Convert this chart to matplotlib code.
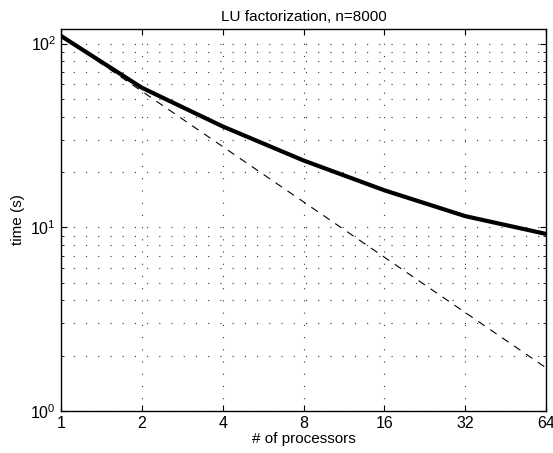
import matplotlib
matplotlib.use("Agg")
import matplotlib.pyplot as plt
from matplotlib.ticker import FixedLocator, FixedFormatter, LogLocator, NullFormatter

plt.rcParams['font.family'] = ['Liberation Sans', 'DejaVu Sans']
plt.rcParams['mathtext.fontset'] = 'custom'
plt.rcParams['mathtext.rm'] = 'Liberation Sans'

processors = [1, 2, 4, 8, 16, 32, 64]
measured = [110, 57.5, 35.4, 23.1, 15.9, 11.5, 9.2]
ideal = [110, 55, 27.5, 13.75, 6.875, 3.4375, 1.71875]
xtick_labels = ['1', '2', '4', '8', '16', '32', '64']

fig = plt.figure(figsize=(5.53, 4.53), dpi=100)
ax = fig.add_axes([61/553, 1 - 411/453, (546 - 61)/553, (411 - 29)/453])

ax.plot(processors, ideal, color='black', linestyle=(0, (7, 6)), linewidth=0.8)
ax.plot(processors, measured, color='black', linewidth=3)

ax.set_xscale('log', base=2)
ax.set_yscale('log')
ax.set_xlim(1, 64)
ax.set_ylim(1, 120)
ax.xaxis.set_major_locator(FixedLocator(processors))
ax.xaxis.set_major_formatter(FixedFormatter(xtick_labels))
ax.xaxis.set_minor_locator(FixedLocator([]))
ax.yaxis.set_major_locator(LogLocator(base=10))
ax.yaxis.set_minor_locator(LogLocator(base=10, subs=range(2, 10)))
ax.yaxis.set_minor_formatter(NullFormatter())

ax.grid(True, which='major', axis='both', linestyle=(0, (1, 10)), color='#333333', linewidth=0.8)
ax.grid(True, which='minor', axis='y', linestyle=(0, (1, 10)), color='#333333', linewidth=0.8)

ax.tick_params(which='both', direction='in', top=True, right=True, labelsize=11.5)
ax.tick_params(which='major', length=4)
ax.tick_params(which='minor', length=2)
for s in ax.spines.values():
    s.set_linewidth(1)

ax.set_title('LU factorization, n=8000', fontsize=11)
ax.set_xlabel('# of processors', fontsize=11, labelpad=1)
ax.set_ylabel('time (s)', fontsize=11)

fig.savefig('out.png', dpi=100)
